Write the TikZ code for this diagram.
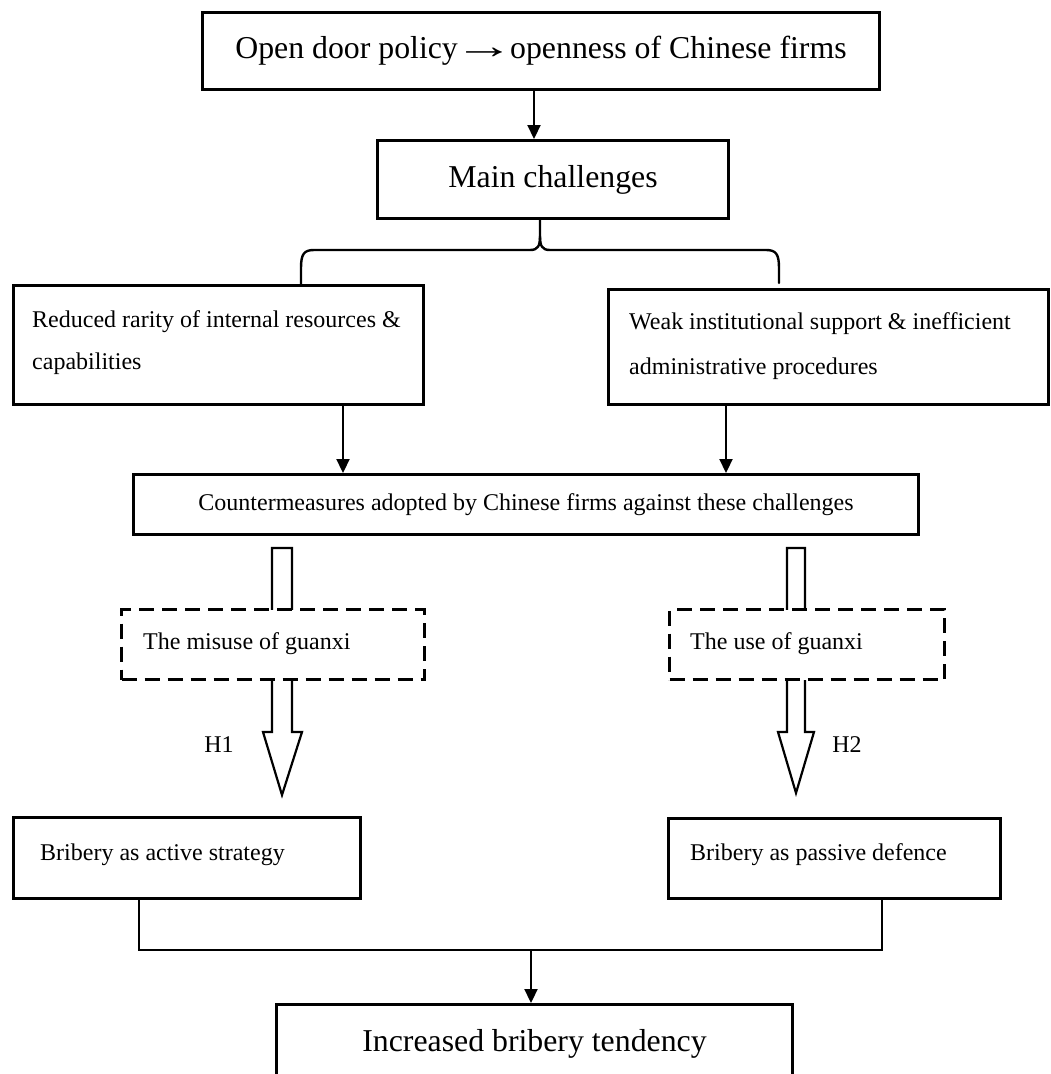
\documentclass[tikz,border=0pt]{standalone}
\usepackage{fontspec}
\usepackage{graphicx}
\setmainfont{Liberation Serif}
\usetikzlibrary{arrows.meta}
\begin{document}
\begin{tikzpicture}[x=1pt,y=-1pt,
  box/.style={draw, line width=3pt, rectangle, inner sep=0pt, anchor=north west, fill=white},
  dbox/.style={draw, line width=3pt, dash pattern=on 15pt off 8pt, rectangle, inner sep=0pt, anchor=north west, fill=white},
  bigtxt/.style={font=\fontsize{31.8}{38}\selectfont},
  smalltxt/.style={font=\fontsize{24}{42}\selectfont},
  txt/.style={anchor=west, inner sep=0pt, align=left, font=\fontsize{24}{42}\selectfont},
  arr/.style={line width=2.2pt, -{Triangle[width=13pt,length=14pt]}},
  conn/.style={line width=2.2pt},
  brace/.style={line width=2.4pt, line cap=round},
  blk/.style={draw, line width=2.2pt, fill=white, line join=miter}
]
\useasboundingbox (0,0) rectangle (1050,1074);
\clip (0,0) rectangle (1050,1074);

% block (hollow) arrows, drawn first so dashed boxes overlay them
\draw[blk] (272,548) -- (292,548) -- (292,732) -- (302,732) -- (282,795) -- (263,732) -- (272,732) -- cycle;
\draw[blk] (787,548) -- (805,548) -- (805,732) -- (814,732) -- (796,793) -- (778,732) -- (787,732) -- cycle;

% boxes
\node[box, minimum width=677pt, minimum height=77pt, bigtxt] (top) at (201,11) {Open door policy \kern-12pt\scalebox{1.9}[1.15]{→}\kern-12pt{} openness of Chinese firms};
\node[box, minimum width=351pt, minimum height=78pt, bigtxt] (main) at (376,139) {Main challenges};
\node[box, minimum width=410pt, minimum height=119pt] (lb) at (12,284) {};
\node[box, minimum width=440pt, minimum height=115pt] (rb) at (607,288) {};
\node[box, minimum width=785pt, minimum height=60pt, smalltxt] (cm) at (132,473) {Countermeasures adopted by Chinese firms against these challenges};
\node[dbox, minimum width=303pt, minimum height=70pt] (dl) at (120,608) {};
\node[dbox, minimum width=275pt, minimum height=70pt] (dr) at (668,608) {};
\node[box, minimum width=347pt, minimum height=81pt] (bl) at (12,816) {};
\node[box, minimum width=332pt, minimum height=80pt] (br) at (667,817) {};
\node[box, minimum width=516pt, minimum height=79pt, bigtxt] (fin) at (275,1003) {Increased bribery tendency};

% texts inside boxes
\node[txt] (lbt) at ([xshift=20pt,yshift=2.5pt]lb.west) {Reduced rarity of internal resources \&\\capabilities};
\node[txt, font=\fontsize{24}{45}\selectfont] (rbt) at ([xshift=22pt,yshift=0.5pt]rb.west) {Weak institutional support \& inefficient\\administrative procedures};
\node[txt] (dlt) at ([xshift=23pt,yshift=1pt]dl.west) {The misuse of guanxi};
\node[txt] (drt) at ([xshift=22pt,yshift=1pt]dr.west) {The use of guanxi};
\node[txt] (blt) at ([xshift=28pt,yshift=3.5pt]bl.west) {Bribery as active strategy};
\node[txt] (brt) at ([xshift=23pt,yshift=4pt]br.west) {Bribery as passive defence};

% hypothesis labels
\node[font=\fontsize{24}{28}\selectfont, inner sep=0pt] (h1) at (219,745) {H1};
\node[font=\fontsize{24}{28}\selectfont, inner sep=0pt] (h2) at (847,745) {H2};

% connectors
\coordinate (c1) at (534,0);
\coordinate (c2) at (343,0);
\coordinate (c3) at (726,0);
\coordinate (c4) at (139,0);
\coordinate (c5) at (882,0);
\coordinate (jn) at (531,950);
\coordinate (bx) at (540,0);
\coordinate (lx) at (301,0);
\coordinate (rx) at (779,0);

\draw[arr] (top.south -| c1) -- (main.north -| c1);
\draw[arr] (lb.south -| c2) -- (cm.north -| c2);
\draw[arr] (rb.south -| c3) -- (cm.north -| c3);

% brace from main challenges to the two challenge boxes
\draw[brace] (main.south -| bx) -- (540,236) .. controls (540,246) and (538,250) .. (530,250) -- (314,250) .. controls (304,250) and (301,254) .. (301,268) -- (lb.north -| lx);
\draw[brace] (540,236) .. controls (540,246) and (542,250) .. (550,250) -- (766,250) .. controls (776,250) and (779,254) .. (779,268) -- (779,283);

% bottom join
\draw[conn] (bl.south -| c4) |- (jn) -| (br.south -| c5);
\draw[arr] (jn) -- (fin.north -| jn);
\end{tikzpicture}
\end{document}
